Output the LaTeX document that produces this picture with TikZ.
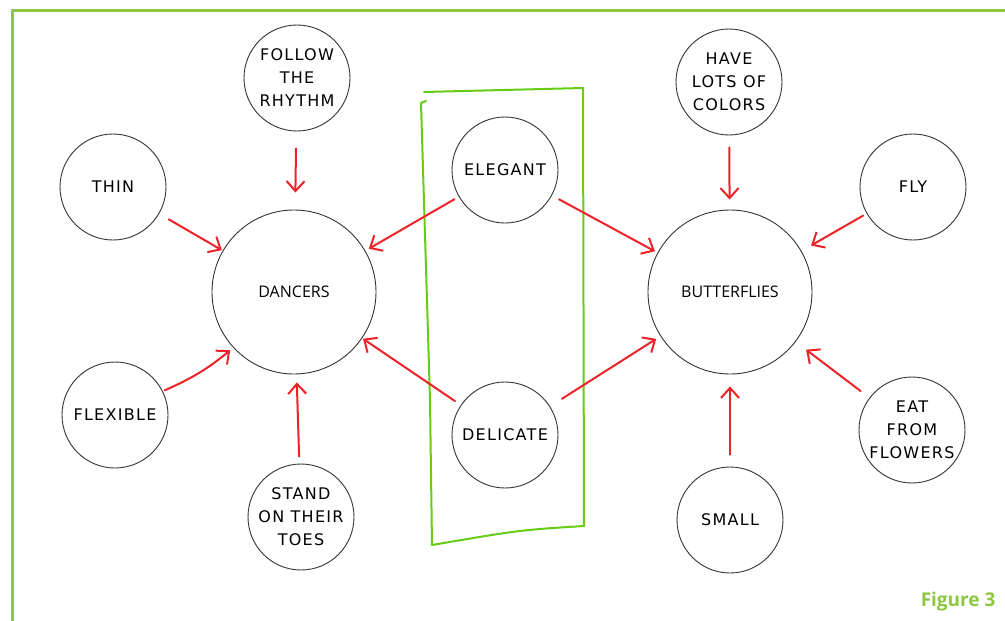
\documentclass[tikz,border=0pt]{standalone}
\usepackage{fontspec}
\setsansfont{Open Sans}
\newfontfamily\handfont{DejaVu Sans}[LetterSpace=8]
\usetikzlibrary{arrows.meta}
\definecolor{framegreen}{RGB}{141,198,63}
\definecolor{boxgreen}{RGB}{102,204,20}
\definecolor{arrowred}{RGB}{236,34,40}
\begin{document}
\begin{tikzpicture}[
    x=1pt, y=-1pt,
    idea/.style={draw=black!80, circle, line width=0.9pt, inner sep=0pt, minimum size=106pt, align=center, font=\handfont\fontsize{16}{23}\selectfont},
    topic/.style={draw=black!80, circle, line width=0.9pt, inner sep=0pt, minimum size=164pt, font=\sffamily\fontsize{16}{18}\selectfont},
    link/.style={-{Straight Barb[length=10pt,width=18pt]}, arrowred, line width=2pt, line cap=round}
]
\useasboundingbox (0,0) rectangle (1005,621);
% frame
\draw[framegreen, line width=3pt] (1005,10) -- (12,10) -- (12,621);
\node[font=\sffamily\bfseries\fontsize{19}{21}\selectfont, text=framegreen, anchor=east] (fig) at (999,602) {Figure 3};

% main topics
\node[topic] (dancers) at (294,292) {DANCERS};
\node[topic] (butterflies) at (730,292) {BUTTERFLIES};

% dancer ideas
\node[idea] (rhythm) at (297,78) {FOLLOW\\THE\\RHYTHM};
\node[idea] (thin) at (113,187) {THIN};
\node[idea] (flexible) at (115,415) {FLEXIBLE};
\node[idea] (toes) at (301,517) {STAND\\ON THEIR\\TOES};

% shared ideas
\node[idea] (elegant) at (505,170) {ELEGANT};
\node[idea] (delicate) at (505,435) {DELICATE};

% butterfly ideas
\node[idea] (colors) at (729,82) {HAVE\\LOTS OF\\COLORS};
\node[idea] (fly) at (913,187) {FLY};
\node[idea] (eat) at (912,430) {EAT\\FROM\\FLOWERS};
\node[idea] (small) at (730,520) {SMALL};

% box round the shared ideas
\draw[boxgreen, line width=2pt, line cap=round, line join=round]
    (424,92) -- (583,88) -- (584,526) .. controls (520,530) .. (432,545)
    -- (430,400) -- (421,103) -- (426,101);

% arrows
\draw[link, shorten <=17pt, shorten >=17pt] (rhythm) -- (dancers);
\draw[link, shorten <=11pt, shorten >=1pt] (thin) -- (dancers);
\draw[link, shorten <=2pt, shorten >=4pt] (flexible) to[bend right=8] (dancers);
\draw[link, shorten <=7pt, shorten >=8pt] (toes) -- (dancers);
\draw[link, shorten <=5pt, shorten >=4pt] (elegant) -- (dancers);
\draw[link, shorten <=7pt, shorten >=1pt] (delicate) -- (dancers);
\draw[link, shorten <=8pt, shorten >=3pt] (elegant) -- (butterflies);
\draw[link, shorten <=14pt, shorten >=5pt] (delicate) -- (butterflies);
\draw[link, shorten <=12pt, shorten >=10pt] (colors) -- (butterflies);
\draw[link, shorten <=4pt, shorten >=11pt] (fly) -- (butterflies);
\draw[link, shorten <=11pt, shorten >=13pt] (eat) -- (butterflies);
\draw[link, shorten <=12pt, shorten >=12pt] (small) -- (butterflies);
\end{tikzpicture}
\end{document}
